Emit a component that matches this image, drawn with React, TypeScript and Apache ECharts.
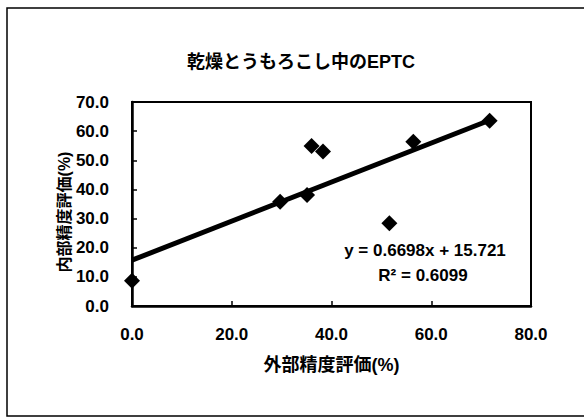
import React, { useEffect, useRef } from "react";
import * as echarts from "echarts";

const titleText = "乾燥とうもろこし中のEPTC";
const xAxisName = "外部精度評価(%)";
const yAxisName = "内部精度評価(%)";
const xValues = [0, 29.7, 35.1, 36.0, 38.3, 51.6, 56.4, 71.7];
const yValues = [8.7, 35.8, 38.1, 54.9, 53.0, 28.4, 56.4, 63.6];
const slope = 0.6698;
const intercept = 15.721;
const rSquared = 0.6099;

const FONT = "'Liberation Sans', Arial, 'Noto Sans CJK JP', sans-serif";

export default function App() {
  const ref = useRef<HTMLDivElement>(null);
  useEffect(() => {
    if (!ref.current) return;
    const chart = echarts.init(ref.current, null, { renderer: "svg" });
    const points = xValues.map((x, i) => [x, yValues[i]]);
    const xMin = Math.min(...xValues);
    const xMax = Math.max(...xValues);
    const trend = [
      [xMin, slope * xMin + intercept],
      [xMax, slope * xMax + intercept],
    ];
    chart.setOption({
      animation: false,
      backgroundColor: "#ffffff",
      title: {
        text: titleText,
        left: 296,
        top: 48,
        textAlign: "center",
        textStyle: { fontFamily: FONT, fontSize: 18, fontWeight: "bold", color: "#000" },
      },
      grid: {
        left: 132,
        top: 102,
        right: 53,
        bottom: 112,
        show: true,
        borderColor: "#000",
        borderWidth: 2,
        backgroundColor: "transparent",
      },
      xAxis: {
        type: "value",
        min: 0,
        max: 80,
        interval: 20,
        name: xAxisName,
        nameLocation: "middle",
        nameGap: 50,
        nameTextStyle: { fontFamily: FONT, fontSize: 18, fontWeight: "bold", color: "#000" },
        axisLine: { show: true, onZero: false, lineStyle: { color: "#000", width: 2.5 } },
        axisTick: { show: true, inside: true, length: 5, lineStyle: { color: "#000", width: 1.5 } },
        splitLine: { show: false },
        axisLabel: {
          margin: 20,
          fontFamily: FONT,
          fontSize: 17,
          fontWeight: "bold",
          color: "#000",
          formatter: (v: number) => v.toFixed(1),
        },
      },
      yAxis: {
        type: "value",
        min: 0,
        max: 70,
        interval: 10,
        axisLine: { show: true, onZero: false, lineStyle: { color: "#000", width: 2.5 } },
        axisTick: { show: true, inside: true, length: 5, lineStyle: { color: "#000", width: 1.5 } },
        splitLine: { show: false },
        axisLabel: {
          margin: 23,
          fontFamily: FONT,
          fontSize: 17,
          fontWeight: "bold",
          color: "#000",
          formatter: (v: number) => v.toFixed(1),
        },
      },
      graphic: [
        {
          type: "rect",
          shape: { x: 7, y: 8, width: 600, height: 408 },
          style: { fill: "none", stroke: "#000", lineWidth: 1.5 },
          silent: true,
          z: -10,
        },
        {
          type: "text",
          x: 64,
          y: 212,
          rotation: Math.PI / 2,
          style: {
            text: yAxisName,
            fontFamily: FONT,
            fontSize: 16,
            fontWeight: "bold",
            fill: "#000",
            align: "center",
            verticalAlign: "middle",
          },
        },
        {
          type: "text",
          x: 425,
          y: 250,
          style: {
            text: `y = ${slope}x + ${intercept}`,
            fontFamily: FONT,
            fontSize: 17,
            fontWeight: "bold",
            fill: "#000",
            align: "center",
            verticalAlign: "middle",
          },
        },
        {
          type: "text",
          x: 423,
          y: 275,
          style: {
            text: `R² = ${rSquared}`,
            fontFamily: FONT,
            fontSize: 17,
            fontWeight: "bold",
            fill: "#000",
            align: "center",
            verticalAlign: "middle",
          },
        },
      ],
      series: [
        {
          type: "line",
          data: trend,
          symbol: "none",
          lineStyle: { color: "#000", width: 5 },
          z: 2,
        },
        {
          type: "scatter",
          data: points,
          symbol: "diamond",
          symbolSize: 16,
          itemStyle: { color: "#000", opacity: 1 },
          z: 3,
        },
      ],
    });
    return () => chart.dispose();
  }, []);
  return (
    <div
      ref={ref}
      style={{ position: "fixed", left: 0, top: 0, width: 584, height: 418 }}
    />
  );
}
